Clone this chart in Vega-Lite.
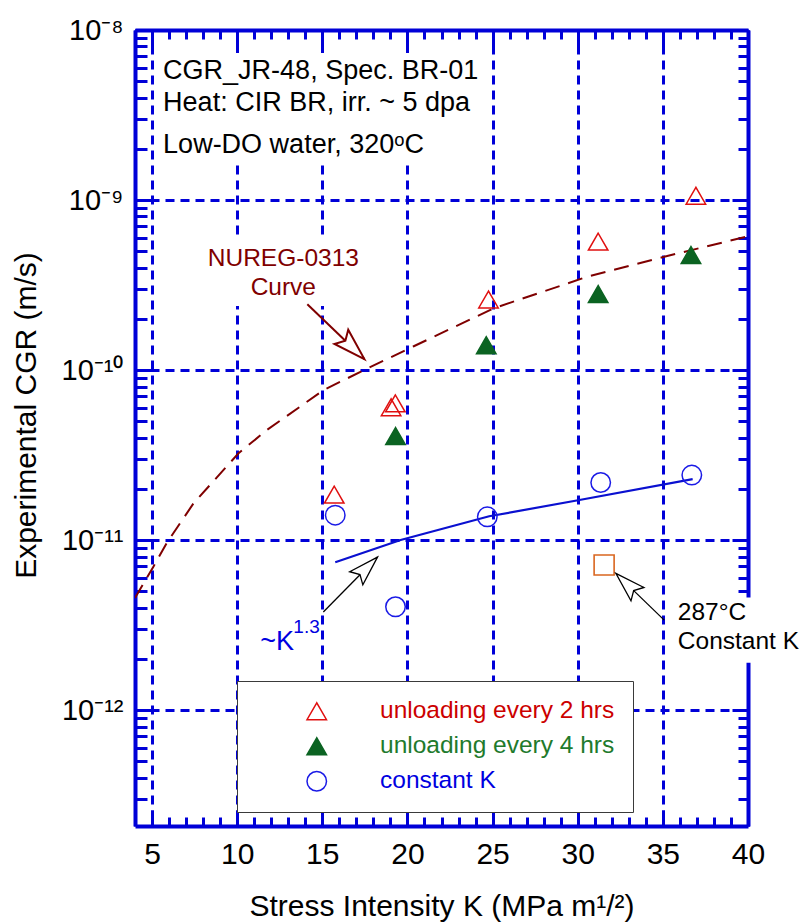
{
  "$schema": "https://vega.github.io/schema/vega-lite/v6.json",
  "width": 613,
  "height": 796,
  "autosize": {"type": "none"},
  "padding": {"left": 135, "top": 30, "right": 53, "bottom": 96},
  "background": "white",
  "config": {
    "view": {"stroke": null},
    "font": "Liberation Sans",
    "axis": {"zindex": 0, "labelFont": "Liberation Sans", "titleFont": "Liberation Sans", "labelColor": "black", "titleColor": "black", "titleFontWeight": "normal"}
  },
  "datasets": {
    "points": [
      {"series": "unloading every 2 hrs", "K": 36.94, "cgr": 1.06e-9},
      {"series": "unloading every 2 hrs", "K": 31.2, "cgr": 5.69e-10},
      {"series": "unloading every 2 hrs", "K": 24.76, "cgr": 2.6e-10},
      {"series": "unloading every 2 hrs", "K": 19.04, "cgr": 6.04e-11},
      {"series": "unloading every 2 hrs", "K": 19.29, "cgr": 6.37e-11},
      {"series": "unloading every 2 hrs", "K": 15.7, "cgr": 1.85e-11},
      {"series": "unloading every 4 hrs", "K": 36.65, "cgr": 4.75e-10},
      {"series": "unloading every 4 hrs", "K": 31.2, "cgr": 2.8e-10},
      {"series": "unloading every 4 hrs", "K": 24.63, "cgr": 1.4e-10},
      {"series": "unloading every 4 hrs", "K": 19.3, "cgr": 4.09e-11},
      {"series": "constant K", "K": 15.76, "cgr": 1.4e-11},
      {"series": "constant K", "K": 19.3, "cgr": 4.05e-12},
      {"series": "constant K", "K": 24.69, "cgr": 1.37e-11},
      {"series": "constant K", "K": 31.35, "cgr": 2.18e-11},
      {"series": "constant K", "K": 36.7, "cgr": 2.41e-11}
    ],
    "square": [{"K": 31.55, "cgr": 7.13e-12}],
    "nureg": [
      {"K": 4.0, "cgr": 4.56e-12},
      {"K": 5.08, "cgr": 6.97e-12},
      {"K": 5.86, "cgr": 9.6e-12},
      {"K": 7.43, "cgr": 1.64e-11},
      {"K": 10.08, "cgr": 3.24e-11},
      {"K": 11.75, "cgr": 4.44e-11},
      {"K": 15.08, "cgr": 7.63e-11},
      {"K": 17.63, "cgr": 1.02e-10},
      {"K": 20.37, "cgr": 1.38e-10},
      {"K": 25.08, "cgr": 2.31e-10},
      {"K": 30.57, "cgr": 3.54e-10},
      {"K": 35.08, "cgr": 4.64e-10},
      {"K": 39.88, "cgr": 6.08e-10}
    ],
    "kfit": [
      {"K": 15.76, "cgr": 7.4e-12},
      {"K": 19.6, "cgr": 1.0e-11},
      {"K": 24.8, "cgr": 1.38e-11},
      {"K": 30.1, "cgr": 1.72e-11},
      {"K": 36.75, "cgr": 2.28e-11}
    ],
    "boxes": [
      {"K1": 5.3, "K2": 24.8, "c1": 1.65e-9, "c2": 7.33e-9},
      {"K1": 7.8, "K2": 17.6, "c1": 2.38e-10, "c2": 5.82e-10},
      {"K1": 35.85, "K2": 43.5, "c1": 1.9e-12, "c2": 4.6e-12}
    ],
    "info": [
      {"t": "CGR_JR-48, Spec. BR-01", "K": 5.65, "cgr": 5.74e-9},
      {"t": "Heat: CIR BR, irr. ~ 5 dpa", "K": 5.65, "cgr": 3.73e-9},
      {"t": "Low-DO water, 320ᵒC", "K": 5.65, "cgr": 2.11e-9}
    ],
    "nuregLabel": [
      {"t": "NUREG-0313", "K": 12.71, "cgr": 4.5e-10},
      {"t": "Curve", "K": 12.71, "cgr": 3.03e-10}
    ],
    "kLabel": [{"t": "~K", "K": 11.35, "cgr": 2.51e-12}],
    "kExp": [{"t": "1.3", "K": 13.3, "cgr": 3.1e-12}],
    "tLabel": [
      {"t": "287°C", "K": 35.88, "cgr": 3.72e-12},
      {"t": "Constant K", "K": 35.88, "cgr": 2.51e-12}
    ],
    "arrowRed": [{"K1": 14.12, "c1": 2.44e-10, "K2": 17.47, "c2": 1.16e-10}],
    "arrowBlack": [
      {"K1": 15.06, "c1": 3.77e-12, "K2": 18.24, "c2": 7.94e-12},
      {"K1": 35.08, "c1": 3.38e-12, "K2": 32.24, "c2": 6.37e-12}
    ],
    "headRed": [{"K": 17.47, "cgr": 1.16e-10}],
    "headK": [{"K": 18.24, "cgr": 7.94e-12}],
    "headT": [{"K": 32.24, "cgr": 6.37e-12}]
  },
  "resolve": {"axis": {"x": "independent", "y": "independent"}},
  "layer": [
    {
      "data": {"name": "boxes"},
      "mark": {"type": "rect", "color": "white", "clip": false},
      "encoding": {
        "x": {"field": "K1", "type": "quantitative", "scale": {"type": "linear", "domain": [4, 40], "nice": false, "zero": false}, "axis": null},
        "x2": {"field": "K2"},
        "y": {"field": "c1", "type": "quantitative", "scale": {"type": "log", "domain": [2.08e-13, 1e-8], "nice": false}, "axis": null},
        "y2": {"field": "c2"}
      }
    },
    {
      "data": {"name": "nureg"},
      "mark": {"type": "line", "color": "#7f0000", "strokeWidth": 2, "strokeDash": [15, 9], "clip": true},
      "encoding": {
        "x": {"field": "K", "type": "quantitative", "scale": {"type": "linear", "domain": [4, 40], "nice": false, "zero": false},
          "axis": {"orient": "bottom", "values": [5, 10, 15, 20, 25, 30, 35, 40], "ticks": true, "tickSize": -16, "tickWidth": 3, "tickColor": "#0000d8", "labels": false, "domain": false, "grid": false, "title": null}},
        "y": {"field": "cgr", "type": "quantitative", "scale": {"type": "log", "domain": [2.08e-13, 1e-8], "nice": false},
          "axis": {"orient": "left", "values": [1e-12, 1e-11, 1e-10, 1e-9, 1e-8], "ticks": true, "tickSize": -16, "tickWidth": 3, "tickColor": "#0000d8", "labels": false, "domain": false, "grid": false, "title": null}}
      }
    },
    {
      "data": {"name": "kfit"},
      "mark": {"type": "line", "color": "#0a10d0", "strokeWidth": 2.2, "clip": true},
      "encoding": {
        "x": {"field": "K", "type": "quantitative", "scale": {"type": "linear", "domain": [4, 40], "nice": false, "zero": false},
          "axis": {"orient": "bottom", "values": [4, 6, 7, 8, 9, 11, 12, 13, 14, 16, 17, 18, 19, 21, 22, 23, 24, 26, 27, 28, 29, 31, 32, 33, 34, 36, 37, 38, 39], "ticks": true, "tickSize": -9, "tickWidth": 3, "tickColor": "#0000d8", "labels": false, "domain": false, "grid": false, "title": null}},
        "y": {"field": "cgr", "type": "quantitative", "scale": {"type": "log", "domain": [2.08e-13, 1e-8], "nice": false},
          "axis": {"orient": "left", "values": [3e-13, 4e-13, 5e-13, 6e-13, 7e-13, 8e-13, 9e-13, 2e-12, 3e-12, 4e-12, 5e-12, 6e-12, 7e-12, 8e-12, 9e-12, 2e-11, 3e-11, 4e-11, 5e-11, 6e-11, 7e-11, 8e-11, 9e-11, 2e-10, 3e-10, 4e-10, 5e-10, 6e-10, 7e-10, 8e-10, 9e-10, 2e-9, 3e-9, 4e-9, 5e-9, 6e-9, 7e-9, 8e-9, 9e-9], "ticks": true, "tickSize": -12, "tickWidth": 3, "tickColor": "#0000d8", "labels": false, "domain": false, "grid": false, "title": null}}
      }
    },
    {
      "data": {"name": "square"},
      "mark": {"type": "point", "shape": "square", "size": 400, "filled": false, "stroke": "#d9661f", "strokeWidth": 1.6, "opacity": 1},
      "encoding": {
        "x": {"field": "K", "type": "quantitative", "scale": {"type": "linear", "domain": [4, 40], "nice": false, "zero": false},
          "axis": {"orient": "top", "values": [5, 10, 15, 20, 25, 30, 35, 40], "ticks": true, "tickSize": -16, "tickWidth": 3, "tickColor": "#0000d8", "labels": false, "domain": true, "domainColor": "#0000d8", "domainWidth": 4, "grid": false, "title": null}},
        "y": {"field": "cgr", "type": "quantitative", "scale": {"type": "log", "domain": [2.08e-13, 1e-8], "nice": false},
          "axis": {"orient": "right", "values": [1e-12, 1e-11, 1e-10, 1e-9, 1e-8], "ticks": true, "tickSize": -16, "tickWidth": 3, "tickColor": "#0000d8", "labels": false, "domain": true, "domainColor": "#0000d8", "domainWidth": 4, "grid": false, "title": null}}
      }
    },
    {
      "data": {"name": "arrowRed"},
      "mark": {"type": "rule", "color": "#7f0000", "strokeWidth": 2},
      "encoding": {
        "x": {"field": "K1", "type": "quantitative", "scale": {"type": "linear", "domain": [4, 40], "nice": false, "zero": false},
          "axis": {"orient": "top", "values": [4, 6, 7, 8, 9, 11, 12, 13, 14, 16, 17, 18, 19, 21, 22, 23, 24, 26, 27, 28, 29, 31, 32, 33, 34, 36, 37, 38, 39], "ticks": true, "tickSize": -9, "tickWidth": 3, "tickColor": "#0000d8", "labels": false, "domain": false, "grid": false, "title": null}},
        "x2": {"field": "K2"},
        "y": {"field": "c1", "type": "quantitative", "scale": {"type": "log", "domain": [2.08e-13, 1e-8], "nice": false},
          "axis": {"orient": "right", "values": [3e-13, 4e-13, 5e-13, 6e-13, 7e-13, 8e-13, 9e-13, 2e-12, 3e-12, 4e-12, 5e-12, 6e-12, 7e-12, 8e-12, 9e-12, 2e-11, 3e-11, 4e-11, 5e-11, 6e-11, 7e-11, 8e-11, 9e-11, 2e-10, 3e-10, 4e-10, 5e-10, 6e-10, 7e-10, 8e-10, 9e-10, 2e-9, 3e-9, 4e-9, 5e-9, 6e-9, 7e-9, 8e-9, 9e-9], "ticks": true, "tickSize": -10, "tickWidth": 3, "tickColor": "#0000d8", "labels": false, "domain": false, "grid": false, "title": null}},
        "y2": {"field": "c2"}
      }
    },
    {
      "data": {"name": "arrowBlack"},
      "mark": {"type": "rule", "color": "black", "strokeWidth": 1.3},
      "encoding": {
        "x": {"field": "K1", "type": "quantitative", "scale": {"type": "linear", "domain": [4, 40], "nice": false, "zero": false}, "axis": null},
        "x2": {"field": "K2"},
        "y": {"field": "c1", "type": "quantitative", "scale": {"type": "log", "domain": [2.08e-13, 1e-8], "nice": false}, "axis": null},
        "y2": {"field": "c2"}
      }
    },
    {
      "data": {"name": "headRed"},
      "mark": {"type": "point", "shape": "M0,0 L0.62,2 L0,1.65 L-0.62,2 Z", "size": 1024, "angle": 134, "fill": "white", "stroke": "#7f0000", "strokeWidth": 2, "opacity": 1, "filled": true, "fillOpacity": 1},
      "encoding": {
        "x": {"field": "K", "type": "quantitative", "scale": {"type": "linear", "domain": [4, 40], "nice": false, "zero": false}, "axis": null},
        "y": {"field": "cgr", "type": "quantitative", "scale": {"type": "log", "domain": [2.08e-13, 1e-8], "nice": false}, "axis": null}
      }
    },
    {
      "data": {"name": "headK"},
      "mark": {"type": "point", "shape": "M0,0 L0.62,2 L0,1.65 L-0.62,2 Z", "size": 900, "angle": 45, "fill": "white", "stroke": "black", "strokeWidth": 1.3, "opacity": 1, "filled": true, "fillOpacity": 1},
      "encoding": {
        "x": {"field": "K", "type": "quantitative", "scale": {"type": "linear", "domain": [4, 40], "nice": false, "zero": false}, "axis": null},
        "y": {"field": "cgr", "type": "quantitative", "scale": {"type": "log", "domain": [2.08e-13, 1e-8], "nice": false}, "axis": null}
      }
    },
    {
      "data": {"name": "headT"},
      "mark": {"type": "point", "shape": "M0,0 L0.62,2 L0,1.65 L-0.62,2 Z", "size": 900, "angle": 314, "fill": "white", "stroke": "black", "strokeWidth": 1.3, "opacity": 1, "filled": true, "fillOpacity": 1},
      "encoding": {
        "x": {"field": "K", "type": "quantitative", "scale": {"type": "linear", "domain": [4, 40], "nice": false, "zero": false}, "axis": null},
        "y": {"field": "cgr", "type": "quantitative", "scale": {"type": "log", "domain": [2.08e-13, 1e-8], "nice": false}, "axis": null}
      }
    },
    {
      "data": {"name": "points"},
      "mark": {"type": "point", "size": 380, "strokeWidth": 1.5, "opacity": 1},
      "encoding": {
        "x": {"field": "K", "type": "quantitative", "scale": {"type": "linear", "domain": [4, 40], "nice": false, "zero": false},
          "axis": {"orient": "bottom", "values": [5, 10, 15, 20, 25, 30, 35, 40], "format": "d", "grid": true, "gridColor": "#0000d8", "gridDash": [9, 6], "gridWidth": 3, "ticks": false, "domain": true, "domainColor": "#0000d8", "domainWidth": 4, "labels": true, "labelFontSize": 30, "labelBaseline": "alphabetic", "labelPadding": 37, "labelFlush": false, "labelOverlap": false, "labelAngle": 0,
            "title": "Stress Intensity K (MPa m¹/²)", "titleFontSize": 30, "titleBaseline": "alphabetic", "titleY": 89}},
        "y": {"field": "cgr", "type": "quantitative", "scale": {"type": "log", "domain": [2.08e-13, 1e-8], "nice": false},
          "axis": {"orient": "left", "values": [1e-12, 1e-11, 1e-10, 1e-9, 1e-8], "grid": true, "gridColor": "#0000d8", "gridDash": [9, 6], "gridWidth": 3, "ticks": false, "domain": true, "domainColor": "#0000d8", "domainWidth": 4, "labels": true, "labelFontSize": 29, "labelPadding": 12, "labelBaseline": "middle", "labelAlign": "right", "labelFlush": false, "labelOverlap": false,
            "labelExpr": "datum.value >= 5e-9 ? '10⁻⁸' : datum.value >= 5e-10 ? '10⁻⁹' : datum.value >= 5e-11 ? '10⁻¹⁰' : datum.value >= 5e-12 ? '10⁻¹¹' : '10⁻¹²'",
            "title": "Experimental CGR (m/s)", "titleFontSize": 30, "titleAngle": 270, "titleBaseline": "bottom", "titleAlign": "center", "titleX": -94, "titleY": 385}},
        "shape": {"field": "series", "type": "nominal",
          "scale": {"domain": ["unloading every 2 hrs", "unloading every 4 hrs", "constant K"], "range": ["triangle-up", "triangle-up", "circle"]},
          "legend": {"title": null, "orient": "none", "legendX": 102, "legendY": 651, "direction": "vertical", "fillColor": "white", "strokeColor": "#3a3a3a", "padding": 18, "symbolSize": 380, "symbolStrokeWidth": 1.5, "symbolOffset": 49.5, "labelOffset": 51, "labelFont": "Liberation Sans", "labelFontSize": 24.5, "labelLimit": 500, "rowPadding": 10,
            "labelColor": {"expr": "datum.value === 'unloading every 2 hrs' ? '#cc0000' : datum.value === 'unloading every 4 hrs' ? '#217a2c' : '#0000e0'"}}},
        "stroke": {"field": "series", "type": "nominal",
          "scale": {"domain": ["unloading every 2 hrs", "unloading every 4 hrs", "constant K"], "range": ["#e01010", "#0b6322", "#1a1ae6"]},
          "legend": {"title": null, "orient": "none", "legendX": 102, "legendY": 651, "direction": "vertical", "fillColor": "white", "strokeColor": "#3a3a3a", "padding": 18, "symbolSize": 380, "symbolStrokeWidth": 1.5, "symbolOffset": 49.5, "labelOffset": 51, "labelFont": "Liberation Sans", "labelFontSize": 24.5, "labelLimit": 500, "rowPadding": 10,
            "labelColor": {"expr": "datum.value === 'unloading every 2 hrs' ? '#cc0000' : datum.value === 'unloading every 4 hrs' ? '#217a2c' : '#0000e0'"}}},
        "fill": {"field": "series", "type": "nominal",
          "scale": {"domain": ["unloading every 2 hrs", "unloading every 4 hrs", "constant K"], "range": ["transparent", "#0b6322", "transparent"]},
          "legend": {"title": null, "orient": "none", "legendX": 102, "legendY": 651, "direction": "vertical", "fillColor": "white", "strokeColor": "#3a3a3a", "padding": 18, "symbolSize": 380, "symbolStrokeWidth": 1.5, "symbolOffset": 49.5, "labelOffset": 51, "labelFont": "Liberation Sans", "labelFontSize": 24.5, "labelLimit": 500, "rowPadding": 10,
            "labelColor": {"expr": "datum.value === 'unloading every 2 hrs' ? '#cc0000' : datum.value === 'unloading every 4 hrs' ? '#217a2c' : '#0000e0'"}}}
      }
    },
    {
      "data": {"name": "info"},
      "mark": {"type": "text", "align": "left", "baseline": "middle", "fontSize": 27, "font": "Liberation Sans", "color": "black"},
      "encoding": {
        "x": {"field": "K", "type": "quantitative", "scale": {"type": "linear", "domain": [4, 40], "nice": false, "zero": false}, "axis": null},
        "y": {"field": "cgr", "type": "quantitative", "scale": {"type": "log", "domain": [2.08e-13, 1e-8], "nice": false}, "axis": null},
        "text": {"field": "t"}
      }
    },
    {
      "data": {"name": "nuregLabel"},
      "mark": {"type": "text", "align": "center", "baseline": "middle", "fontSize": 24.5, "font": "Liberation Sans", "color": "#7f0000"},
      "encoding": {
        "x": {"field": "K", "type": "quantitative", "scale": {"type": "linear", "domain": [4, 40], "nice": false, "zero": false}, "axis": null},
        "y": {"field": "cgr", "type": "quantitative", "scale": {"type": "log", "domain": [2.08e-13, 1e-8], "nice": false}, "axis": null},
        "text": {"field": "t"}
      }
    },
    {
      "data": {"name": "kLabel"},
      "mark": {"type": "text", "align": "left", "baseline": "middle", "fontSize": 27, "font": "Liberation Sans", "color": "#0000e0"},
      "encoding": {
        "x": {"field": "K", "type": "quantitative", "scale": {"type": "linear", "domain": [4, 40], "nice": false, "zero": false}, "axis": null},
        "y": {"field": "cgr", "type": "quantitative", "scale": {"type": "log", "domain": [2.08e-13, 1e-8], "nice": false}, "axis": null},
        "text": {"field": "t"}
      }
    },
    {
      "data": {"name": "kExp"},
      "mark": {"type": "text", "align": "left", "baseline": "middle", "fontSize": 19, "font": "Liberation Sans", "color": "#0000e0"},
      "encoding": {
        "x": {"field": "K", "type": "quantitative", "scale": {"type": "linear", "domain": [4, 40], "nice": false, "zero": false}, "axis": null},
        "y": {"field": "cgr", "type": "quantitative", "scale": {"type": "log", "domain": [2.08e-13, 1e-8], "nice": false}, "axis": null},
        "text": {"field": "t"}
      }
    },
    {
      "data": {"name": "tLabel"},
      "mark": {"type": "text", "align": "left", "baseline": "middle", "fontSize": 24.5, "font": "Liberation Sans", "color": "black"},
      "encoding": {
        "x": {"field": "K", "type": "quantitative", "scale": {"type": "linear", "domain": [4, 40], "nice": false, "zero": false}, "axis": null},
        "y": {"field": "cgr", "type": "quantitative", "scale": {"type": "log", "domain": [2.08e-13, 1e-8], "nice": false}, "axis": null},
        "text": {"field": "t"}
      }
    }
  ]
}
